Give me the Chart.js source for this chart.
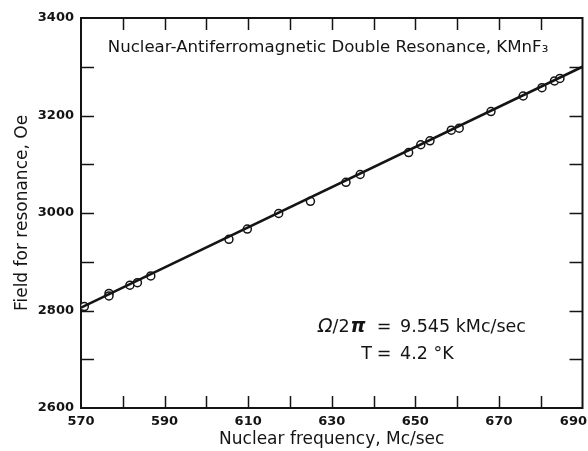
<!DOCTYPE html>
<html>
<head>
<meta charset="utf-8">
<script src="https://cdn.jsdelivr.net/npm/chart.js@4.4.1/dist/chart.umd.min.js"></script>
<style>
  html, body { margin: 0; padding: 0; background: #fff; }
  #wrap { width: 588px; height: 451px; }
</style>
</head>
<body>
<div id="wrap"><canvas id="c"></canvas></div>
<script>
// measured points (Mc/sec, Oe)
const freq  = [570.8, 576.7, 576.7, 581.7, 583.5, 586.7, 605.4, 609.8, 617.3, 624.9, 633.4,
               636.8, 648.4, 651.3, 653.5, 658.6, 660.5, 668.1, 675.8, 680.3, 683.3, 684.6];
const field = [2808, 2835, 2830, 2852, 2857, 2871, 2946, 2967, 2999, 3024, 3063,
               3079, 3124, 3140, 3148, 3170, 3174, 3208, 3240, 3257, 3271, 3276];
// straight line through the points
const fitFreq  = [570, 690];
const fitField = [2806, 3300];
// tick labels
const xLabels = [570, 590, 610, 630, 650, 670, 690];
const yLabels = [2600, 2800, 3000, 3200, 3400];

const titleText = 'Nuclear-Antiferromagnetic Double Resonance, KMnF₃';
const FONT = 'DejaVu Sans';
const INK = '#141414';

// frame with inward ticks on all four sides, x labels, and the notes
const framePlugin = {
  id: 'frame',
  beforeDatasetsDraw(chart) {
    const { ctx, chartArea: a, scales: { x, y } } = chart;
    ctx.save();
    ctx.strokeStyle = INK;
    ctx.lineWidth = 1.5;
    ctx.beginPath();
    x.ticks.forEach(t => {
      if (t.value <= x.min || t.value >= x.max) return;
      const px = Math.round(x.getPixelForValue(t.value)) + 0.5;
      ctx.moveTo(px, a.top); ctx.lineTo(px, a.top + 12);
      ctx.moveTo(px, a.bottom); ctx.lineTo(px, a.bottom - 12);
    });
    y.ticks.forEach(t => {
      if (t.value <= y.min || t.value >= y.max) return;
      const py = Math.round(y.getPixelForValue(t.value)) + 0.5;
      ctx.moveTo(a.left, py); ctx.lineTo(a.left + 13, py);
      ctx.moveTo(a.right, py); ctx.lineTo(a.right - 13, py);
    });
    ctx.stroke();
    ctx.lineWidth = 2;
    ctx.strokeRect(a.left, a.top, a.right - a.left, a.bottom - a.top);
    ctx.restore();
  },
  afterDraw(chart) {
    const { ctx, chartArea: a, scales: { x } } = chart;
    ctx.save();
    ctx.fillStyle = INK;
    ctx.textBaseline = 'middle';

    // x tick labels
    ctx.font = 'bold 13px ' + FONT;
    ctx.textAlign = 'center';
    xLabels.forEach(v => {
      const w = ctx.measureText(String(v)).width;
      let px = x.getPixelForValue(v);
      px = Math.min(px, chart.width - w / 2 - 1);
      ctx.fillText(String(v), px, a.bottom + 14);
    });

    // title inside the frame
    ctx.font = '16.6px ' + FONT;
    ctx.textAlign = 'center';
    ctx.fillText(titleText, a.left + 247, a.top + 30);

    // conditions, "=" signs lined up
    const eqX = a.left + 303;
    const y1 = a.top + 309, y2 = a.top + 336;
    ctx.textAlign = 'left';
    let tx = a.left + 237;
    ctx.font = 'italic 19px ' + FONT;
    ctx.fillText('Ω', tx, y1);
    tx += ctx.measureText('Ω').width;
    ctx.font = '17.5px ' + FONT;
    ctx.fillText('/2', tx, y1);
    tx += ctx.measureText('/2').width + 1;
    ctx.font = 'italic bold 19px ' + FONT;
    ctx.fillText('π', tx, y1);

    ctx.font = '17.5px ' + FONT;
    ctx.textAlign = 'center';
    ctx.fillText('=', eqX, y1);
    ctx.fillText('=', eqX, y2);
    ctx.textAlign = 'left';
    ctx.fillText('9.545 kMc/sec', eqX + 16, y1);
    ctx.fillText('4.2 °K', eqX + 16, y2);
    ctx.textAlign = 'right';
    ctx.fillText('T', eqX - 12, y2);
    ctx.restore();
  }
};

new Chart(document.getElementById('c'), {
  data: {
    datasets: [
      {
        type: 'line',
        data: fitFreq.map((f, i) => ({ x: f, y: fitField[i] })),
        borderColor: INK,
        borderWidth: 2.6,
        pointRadius: 0,
        fill: false
      },
      {
        type: 'scatter',
        data: freq.map((f, i) => ({ x: f, y: field[i] })),
        pointRadius: 4,
        pointBorderWidth: 1.5,
        pointBorderColor: INK,
        pointBackgroundColor: '#fff'
      }
    ]
  },
  options: {
    responsive: true,
    maintainAspectRatio: false,
    animation: false,
    devicePixelRatio: 1,
    layout: { padding: { top: 18, right: 4, bottom: 0, left: 0 } },
    plugins: {
      legend: { display: false },
      tooltip: { enabled: false }
    },
    scales: {
      x: {
        type: 'linear',
        min: 570,
        max: 690,
        grid: { display: false, drawTicks: false },
        border: { display: false },
        ticks: { display: false, stepSize: 10 },
        title: {
          display: true,
          text: 'Nuclear frequency, Mc/sec',
          color: INK,
          font: { family: FONT, size: 17 },
          padding: { top: 0, bottom: 1 }
        },
        afterFit(s) {
          s.height = 43;
          s.paddingLeft = 0;
          s.paddingRight = 0;
        }
      },
      y: {
        type: 'linear',
        min: 2600,
        max: 3400,
        grid: { display: false, drawTicks: false },
        border: { display: false },
        ticks: {
          stepSize: 100,
          padding: 7,
          color: INK,
          font: { family: FONT, size: 13, weight: 'bold' },
          callback: v => (yLabels.includes(v) ? String(v) : '')
        },
        title: {
          display: true,
          text: 'Field for resonance, Oe',
          color: INK,
          font: { family: FONT, size: 17 },
          padding: { top: 12, bottom: 0 }
        },
        afterFit(s) {
          s.width = 81;
        }
      }
    }
  },
  plugins: [framePlugin]
});
</script>
</body>
</html>
